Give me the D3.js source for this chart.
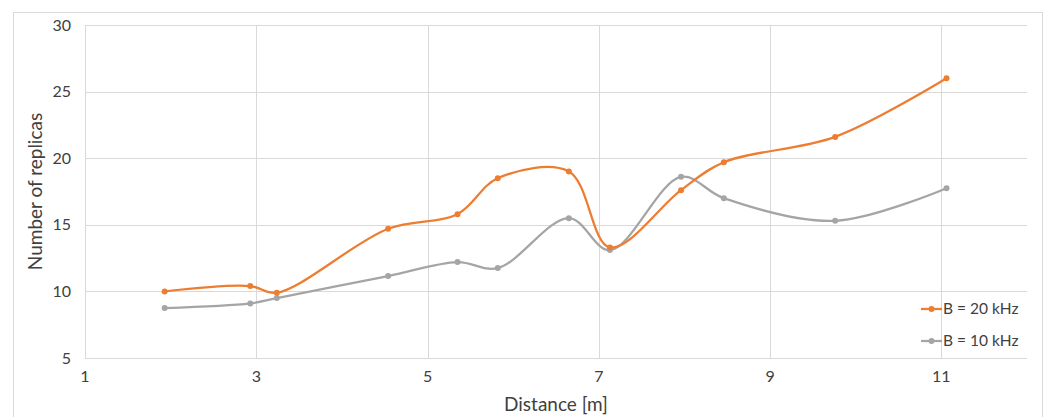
<!DOCTYPE html>
<html>
<head>
<meta charset="utf-8">
<script src="https://cdn.jsdelivr.net/npm/d3@7"></script>
<style>
  body { margin: 0; background: #fff; }
  text { font-family: Lato, "Open Sans", sans-serif; fill: #404040; }
</style>
</head>
<body>
<div id="chart"></div>
<script>
// distances (m)
var distances = [1.93, 2.93, 3.24, 4.54, 5.35, 5.82, 6.65, 7.13, 7.96, 8.46, 9.76, 11.06];
// replicas, B = 20 kHz
var b20 = [10.0, 10.4, 9.9, 14.7, 15.8, 18.5, 19.0, 13.3, 17.6, 19.7, 21.6, 26.0];
// replicas, B = 10 kHz
var b10 = [8.75, 9.1, 9.5, 11.15, 12.2, 11.75, 15.5, 13.1, 18.6, 17.0, 15.3, 17.75];
var xTicks = [1, 3, 5, 7, 9, 11];
var yTicks = [5, 10, 15, 20, 25, 30];
var seriesNames = ["B = 20 kHz", "B = 10 kHz"];
var seriesColors = ["#ED7D31", "#A5A5A5"];

var W = 1049, H = 417;
var margin = {top: 25, right: 22, bottom: 59, left: 85};

var svg = d3.select("#chart").append("svg")
    .attr("width", W).attr("height", H);

// outer chart border
svg.append("rect")
    .attr("x", 13.5).attr("y", 12.5)
    .attr("width", 1029).attr("height", 420)
    .attr("fill", "none").attr("stroke", "#d9d9d9");

var x = d3.scaleLinear().domain([1, 12]).range([margin.left, W - margin.right]);
var y = d3.scaleLinear().domain([5, 30]).range([H - margin.bottom, margin.top]);

// grid
var grid = svg.append("g").attr("stroke", "#d9d9d9").attr("stroke-width", 1);
grid.selectAll(".hg").data(yTicks).join("line")
    .attr("x1", x(1)).attr("x2", x(12))
    .attr("y1", d => Math.round(y(d)) + 0.5).attr("y2", d => Math.round(y(d)) + 0.5);
grid.selectAll(".vg").data(xTicks).join("line")
    .attr("y1", y(5)).attr("y2", y(30))
    .attr("x1", d => Math.round(x(d)) + 0.5).attr("x2", d => Math.round(x(d)) + 0.5);

// tick labels
svg.append("g").selectAll("text").data(yTicks).join("text")
    .attr("x", 71).attr("y", d => y(d)).attr("dy", "0.35em")
    .attr("text-anchor", "end").attr("font-size", 16)
    .text(d => d);
svg.append("g").selectAll("text").data(xTicks).join("text")
    .attr("x", d => x(d)).attr("y", y(5) + 24)
    .attr("text-anchor", "middle").attr("font-size", 16)
    .text(d => d);

// axis titles
svg.append("text")
    .attr("x", 556).attr("y", 411)
    .attr("text-anchor", "middle").attr("font-size", 19)
    .text("Distance [m]");
svg.append("text")
    .attr("transform", "translate(42," + y(17.5) + ") rotate(-90)")
    .attr("text-anchor", "middle").attr("font-size", 19)
    .text("Number of replicas");

// series
var line = d3.line()
    .x(d => x(d[0])).y(d => y(d[1]))
    .curve(d3.curveCatmullRom.alpha(0.5));

[b10, b20].forEach(function (vals, k) {
    var i = k === 0 ? 1 : 0;
    var pts = distances.map((d, j) => [d, vals[j]]);
    svg.append("path")
        .attr("d", line(pts))
        .attr("fill", "none")
        .attr("stroke", seriesColors[i])
        .attr("stroke-width", 2.25)
        .attr("stroke-linejoin", "round");
    svg.append("g").selectAll("circle").data(pts).join("circle")
        .attr("cx", d => x(d[0])).attr("cy", d => y(d[1]))
        .attr("r", 3).attr("fill", seriesColors[i]);
});

// legend
var leg = svg.append("g").selectAll("g").data(seriesNames).join("g")
    .attr("transform", (d, i) => "translate(921," + (309 + i * 32) + ")");
leg.append("line")
    .attr("x1", 0).attr("x2", 21)
    .attr("stroke", (d, i) => seriesColors[i]).attr("stroke-width", 2.25);
leg.append("circle")
    .attr("cx", 10.5).attr("r", 3)
    .attr("fill", (d, i) => seriesColors[i]);
leg.append("text")
    .attr("x", 22).attr("dy", "0.35em").attr("font-size", 15.5)
    .text(d => d);
</script>
</body>
</html>
